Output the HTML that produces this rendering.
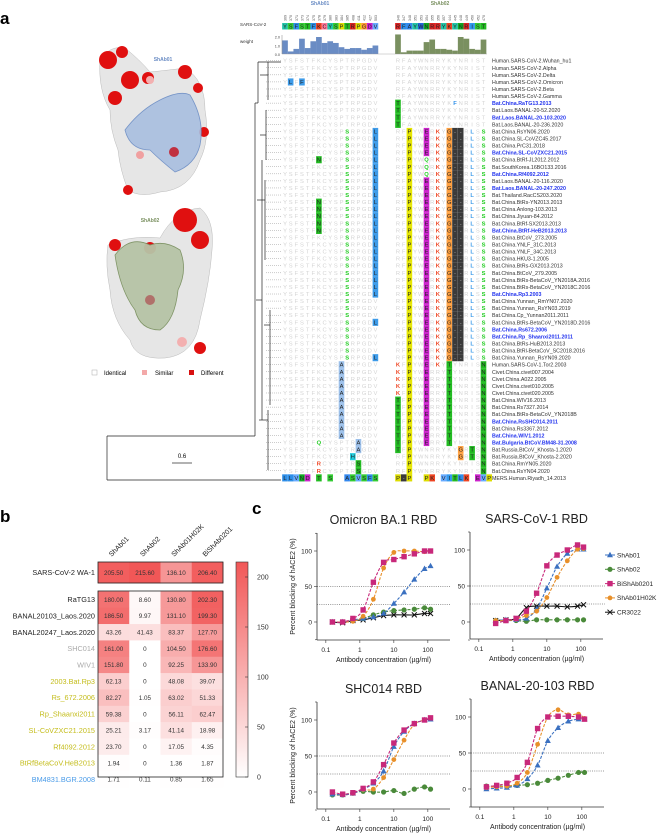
<!DOCTYPE html>
<html><head><meta charset="utf-8"><style>
html,body{margin:0;padding:0;background:#fff;}
svg{display:block;font-family:"Liberation Sans",sans-serif;}
</style></head><body>
<svg id="fig" width="669" height="836" viewBox="0 0 669 836" xmlns="http://www.w3.org/2000/svg">
<text x="0" y="24" font-size="17" font-weight="bold">a</text>
<text x="0" y="522" font-size="17" font-weight="bold">b</text>
<text x="252" y="514" font-size="17" font-weight="bold">c</text>

<!-- surfaces -->
<g>
<path d="M100,60 Q110,45 125,48 Q140,60 150,72 Q170,70 185,68 Q205,80 205,110 Q210,140 200,160 Q190,190 160,192 Q140,198 128,190 Q120,170 118,150 Q110,130 110,110 Q98,90 100,60Z" fill="#e6e6e6" stroke="#bbb" stroke-width="0.5"/>
<circle cx="108" cy="60" r="9" fill="#e01010"/><circle cx="122" cy="52" r="6" fill="#e01010"/><circle cx="130" cy="80" r="9" fill="#e01010"/><circle cx="148" cy="78" r="6" fill="#e01010"/><circle cx="115" cy="98" r="7" fill="#e01010"/><circle cx="185" cy="72" r="7" fill="#e01010"/><circle cx="198" cy="88" r="5" fill="#e01010"/><circle cx="204" cy="132" r="5" fill="#e01010"/><circle cx="128" cy="190" r="5" fill="#e01010"/><circle cx="140" cy="155" r="4" fill="#f0a0a0"/><circle cx="150" cy="80" r="4" fill="#f3b0b0"/>
<path d="M125,130 Q140,110 160,100 Q180,90 190,95 Q205,120 200,145 Q195,165 175,172 Q160,160 150,150 Q130,150 125,130Z" fill="#a9bfe0" stroke="#6a8cc4" stroke-width="0.8" opacity="0.9"/>
<circle cx="174" cy="152" r="5" fill="#c03040"/>
<text x="163" y="61" font-size="5" fill="#6a8cc4" font-weight="bold" text-anchor="middle">ShAb01</text>
</g>
<g>
<path d="M108,245 Q130,235 160,238 Q175,210 200,208 Q215,220 212,250 Q210,280 200,320 Q195,355 165,358 Q135,360 130,340 Q112,320 110,290 Q105,265 108,245Z" fill="#e6e6e6" stroke="#bbb" stroke-width="0.5"/>
<circle cx="185" cy="220" r="12" fill="#e01010"/><circle cx="200" cy="240" r="9" fill="#e01010"/><circle cx="115" cy="245" r="6" fill="#e01010"/><circle cx="150" cy="248" r="6" fill="#e01010"/><circle cx="200" cy="348" r="6" fill="#e01010"/><circle cx="182" cy="342" r="5" fill="#f3b0b0"/>
<path d="M115,255 Q130,235 150,245 Q165,240 180,250 Q188,270 178,290 Q175,320 160,330 Q140,330 135,310 Q120,290 115,255Z" fill="#b6c4a6" stroke="#7a9060" stroke-width="0.8" opacity="0.95"/>
<circle cx="150" cy="300" r="5" fill="#b0706a"/>
<text x="150" y="222" font-size="5" fill="#7a9060" font-weight="bold" text-anchor="middle">ShAb02</text>
</g>
<g font-size="6">
<rect x="92" y="370" width="5" height="5" fill="#fff" stroke="#aaa" stroke-width="0.5"/><text x="104" y="375">Identical</text>
<rect x="142" y="370" width="5" height="5" fill="#f3a9a9"/><text x="155" y="375">Similar</text>
<rect x="189" y="370" width="5" height="5" fill="#d81010"/><text x="201" y="375">Different</text>
</g>
<g><text x="182" y="458" font-size="6" text-anchor="middle">0.6</text><line x1="172" y1="463" x2="192" y2="463" stroke="#333" stroke-width="0.8"/></g>

<g id="align"></g>
<g id="heat"></g>
<g id="curves"></g>
</svg>
<script>
const NS="http://www.w3.org/2000/svg";
function mk(tag,attrs,parent,txt){const e=document.createElementNS(NS,tag);for(const k in attrs)e.setAttribute(k,attrs[k]);if(txt!==undefined)e.textContent=txt;parent.appendChild(e);return e;}

// ---------- Panel a alignment ----------
const seq1="YSFSTFKCYSPTRPGDV".split("");
const seq2="RFAYWNRRYKYNRIST".split("");
const weight1=[1.6,0.3,0.6,1.8,0.7,1.5,2.0,1.3,1.5,1.3,0.8,0.6,0.7,0.7,0.5,0.7,1.0];
const weight2=[2.3,0.2,0.4,0.4,0.4,1.4,1.7,0.6,0.6,0.5,0.4,2.0,1.8,0.6,0.5,1.7];
const names=["Human.SARS-CoV-2.Wuhan_hu1","Human.SARS-CoV-2.Alpha","Human.SARS-CoV-2.Delta","Human.SARS-CoV-2.Omicron","Human.SARS-CoV-2.Beta","Human.SARS-CoV-2.Gamma","Bat.China.RaTG13.2013","Bat.Laos.BANAL-20-52.2020","Bat.Laos.BANAL-20-103.2020","Bat.Laos.BANAL-20-236.2020","Bat.China.RsYN06.2020","Bat.China.SL-CoVZC45.2017","Bat.China.PrC31.2018","Bat.China.SL-CoVZXC21.2015","Bat.China.BtRf-JL2012.2012","Bat.SouthKorea.16BO133.2016","Bat.China.Rf4092.2012","Bat.Laos.BANAL-20-116.2020","Bat.Laos.BANAL-20-247.2020","Bat.Thailand.RacCS203.2020","Bat.China.BtRs-YN2013.2013","Bat.China.Anlong-103.2013","Bat.China.Jiyuan-84.2012","Bat.China.BtRf-SX2013.2013","Bat.China.BtRf-HeB2013.2013","Bat.China.BtCoV_273.2005","Bat.China.YNLF_31C.2013","Bat.China.YNLF_34C.2013","Bat.China.HKU3-1.2005","Bat.China.BtRs-GX2013.2013","Bat.China.BtCoV_279.2005","Bat.China.BtRs-BetaCoV_YN2018A.2016","Bat.China.BtRs-BetaCoV_YN2018C.2016","Bat.China.Rp3.2003","Bat.China.Yunnan_RmYN07.2020","Bat.China.Yunnan_RsYN03.2019","Bat.China.Cp_Yunnan2011.2011","Bat.China.BtRs-BetaCoV_YN2018D.2016","Bat.China.Rs672.2006","Bat.China.Rp_Shaanxi2011.2011","Bat.China.BtRs-HuB2013.2013","Bat.China.BtRl-BetaCoV_SC2018.2016","Bat.China.Yunnan_RsYN09.2020","Human.SARS-CoV-1.Tor2.2003","Civet.China.civet007.2004","Civet.China.A022.2005","Civet.China.civet010.2005","Civet.China.civet020.2005","Bat.China.WIV16.2013","Bat.China.Rs7327.2014","Bat.China.BtRs-BetaCoV_YN2018B","Bat.China.RsSHC014.2011","Bat.China.Rs3367.2012","Bat.China.WIV1.2012","Bat.Bulgaria.BtCoV.BM48-31.2008","Bat.Russia.BtCoV_Khosta-1.2020","Bat.Russia.BtCoV_Khosta-2.2020","Bat.China.RmYN05.2020","Bat.China.RsYN04.2020","MERS.Human.Riyadh_14.2013"];
const highlighted=[6,8,13,16,18,24,33,38,39,51,53,54];
const resColor={Y:"#22c4a8",S:"#33cc33",F:"#2d8ee8",T:"#22bb22",K:"#ee4422",C:"#ff7799",P:"#dddd00",R:"#dd2222",G:"#ff9933",D:"#cc22cc",V:"#66aaff",A:"#3388ee",W:"#2266dd",N:"#11aa22",I:"#3399ee",E:"#cc22cc",L:"#2d8ee8",Q:"#33cc33",H:"#22ccdd"};
// overrides: [rowFrom,rowTo,group,col,letter,kind,color]
const overrides=[
[3,3,1,1,"L","box","#3d9be9"],[3,3,1,3,"F","box","#3d9be9"],
[10,42,1,11,"S","txt","#22cc22"],[10,33,1,16,"L","box","#3d9be9"],[37,37,1,16,"L","box","#3d9be9"],[42,42,1,16,"L","box","#3d9be9"],
[14,14,1,6,"N","box","#22bb22"],[20,24,1,6,"N","box","#22bb22"],
[43,53,1,10,"A","box","#9cc0ea"],[54,55,1,13,"A","box","#9cc0ea"],[56,56,1,12,"H","box","#22ccdd"],[57,58,1,13,"S","box","#22bb22"],[57,58,1,6,"R","txt","#ee4422"],[54,54,1,6,"Q","txt","#22cc22"],
[6,9,2,0,"T","box","#22bb22"],[6,6,2,10,"F","txt","#2d8ee8"],
[10,58,2,2,"P","box","#e6e600"],[10,54,2,5,"E","box","#cc22cc"],[14,16,2,5,"Q","txt","#22cc22"],
[10,43,2,7,"K","txt","#ee4422"],[10,42,2,9,"G","box","#ffa040"],[43,54,2,9,"T","box","#22bb22"],
[10,42,2,10,"-","box","#3a3a3a"],[10,42,2,11,"-","box","#3a3a3a"],[10,42,2,13,"L","txt","#3d9be9"],[10,42,2,15,"S","txt","#22cc22"],
[43,58,2,15,"N","box","#22bb22"],[43,47,2,0,"K","txt","#ee4422"],[48,55,2,0,"T","box","#22bb22"],[55,56,2,11,"G","box","#ffa040"],[55,56,2,13,"T","box","#22bb22"]
];
const mers1=["L","L","V","N","D","","T","","S","","","A","S","V","S","F","S"];
const mers2=["P","-","P","","","P","K","","V","I","T","L","K","","E","V","P"];
(function(){
  const g=document.getElementById("align");
  const x1=c=>285+c*5.65, x2=c=>398+c*5.7, rowY=i=>60.7+i*7.07;
  mk("text",{x:240,y:26,"font-size":4.5,fill:"#333"},g,"SARS-CoV-2");
  mk("text",{x:240,y:43,"font-size":4.5,fill:"#333"},g,"weight");
  mk("text",{x:320,y:5,"font-size":5,fill:"#6a8cc4","font-weight":"bold","text-anchor":"middle"},g,"ShAb01");
  mk("text",{x:440,y:5,"font-size":5,fill:"#7a9060","font-weight":"bold","text-anchor":"middle"},g,"ShAb02");
  const nums1=[369,370,371,373,374,375,378,379,380,383,384,385,408,411,412,427,503];
  const nums2=[346,347,348,351,353,354,355,356,357,444,445,448,449,450,452,470];
  [[seq1,x1,nums1,weight1,"#6a8cc4"],[seq2,x2,nums2,weight2,"#7a9060"]].forEach(([s,xf,nums,w,col],gi)=>{
    s.forEach((ch,c)=>{
      const t=mk("text",{x:xf(c)+1.5,y:21,"font-size":3.6,fill:"#555",transform:`rotate(-90 ${xf(c)+1.5} 21)`},g,nums[c]);
      const r=mk("rect",{x:xf(c)-2.85,y:23,width:5.7,height:6.5,fill:resColor[ch]||"#ccc"},g);
      
      
      mk("text",{x:xf(c),y:28.3,"font-size":5.5,"text-anchor":"middle",fill:"#222"},g,ch);
      const h=w[c]*8.5;
      const b=mk("rect",{x:xf(c)-2.85,y:54-h,width:5.7,height:h,fill:col},g);
      
      
    });
  });
  mk("line",{x1:282,y1:35,x2:282,y2:54,stroke:"#666","stroke-width":0.4},g);
  mk("line",{x1:282,y1:54,x2:487,y2:54,stroke:"#999","stroke-width":0.4},g);
  [["2.0",37],["1.0",46],["0.0",54.5]].forEach(([l,y])=>mk("text",{x:280,y:y+1.5,"font-size":3.8,"text-anchor":"end",fill:"#444"},g,l));
  // rows
  names.forEach((n,i)=>{
    const y=rowY(i);
    const last=i===names.length-1;
    if(!last){
      seq1.forEach((ch,c)=>mk("text",{x:x1(c),y:y+2,"font-size":5.8,"text-anchor":"middle",fill:"#d4d4d4"},g,ch));
      seq2.forEach((ch,c)=>mk("text",{x:x2(c),y:y+2,"font-size":5.8,"text-anchor":"middle",fill:"#d4d4d4"},g,ch));
    }
    const hl=highlighted.includes(i);
    const t=mk("text",{x:492,y:y+2,"font-size":5.3,fill:hl?"#2233ee":"#333","font-weight":hl?"bold":"normal"},g,n);
    
    
    if(i<names.length-1) mk("line",{x1:266,y1:y,x2:281,y2:y,stroke:"#999","stroke-width":0.5,"stroke-dasharray":"1,1"},g);
  });
  function cell(grp,c,i,ch,kind,color){
    const x=grp===1?x1(c):x2(c), y=rowY(i);
    if(kind==="box"){mk("rect",{x:x-2.8,y:y-3.5,width:5.6,height:7.1,fill:color},g);
      mk("text",{x:x,y:y+2,"font-size":5.8,"text-anchor":"middle",fill:color==="#3a3a3a"?"#aaa":"#222"},g,ch);}
    else{mk("rect",{x:x-2.8,y:y-3.5,width:5.6,height:7.1,fill:"#fff"},g);
      mk("text",{x:x,y:y+2,"font-size":5.8,"text-anchor":"middle",fill:color,"font-weight":"bold"},g,ch);}
  }
  overrides.forEach(o=>{for(let i=o[0];i<=o[1];i++)cell(o[2],o[3],i,o[4],o[5],o[6]);});
  const li=names.length-1;
  mers1.forEach((ch,c)=>{if(ch)cell(1,c,li,ch,"box",resColor[ch]||"#ccc");});
  mers2.forEach((ch,c)=>{if(ch)cell(2,c,li,ch,"box",ch==="-"?"#3a3a3a":(resColor[ch]||"#ccc"));});
  // tree
  const L=(a,b,c,d,w)=>mk("line",{x1:a,y1:b,x2:c,y2:d,stroke:"#222","stroke-width":w||0.7},g);
  L(107,436,255,436);L(107,480,281,480);L(107,436,107,480);
  L(255,436,255,103);L(255,103,258,103);L(258,103,258,62);L(258,62,281,62);
  L(256,300,262,300);L(262,160,262,420);L(259,420,268,420);L(268,410,268,470);
  L(257,200,265,200);L(265,180,265,260);L(264,325,270,325);L(270,310,270,405);
  L(260,75,268,75);L(268,62,268,100);L(260,135,266,135);L(266,110,266,160);
})();

// ---------- Panel b heatmap ----------
const hmRows=["SARS-CoV-2 WA-1","RaTG13","BANAL20103_Laos.2020","BANAL20247_Laos.2020","SHC014","WIV1","2003.Bat.Rp3","Rs_672.2006","Rp_Shaanxi2011","SL-CoVZXC21.2015","Rf4092.2012","BtRfBetaCoV.HeB2013","BM4831.BGR.2008"];
const hmCols=["ShAb01","ShAb02","ShAb01H02K","BiShAb0201"];
const hmValues=[[205.50,215.60,136.10,206.40],[180.00,8.60,130.80,202.30],[186.50,9.97,131.10,199.30],[43.26,41.43,83.37,127.70],[161.00,0,104.50,176.60],[151.80,0,92.25,133.90],[62.13,0,48.08,39.07],[82.27,1.05,63.02,51.33],[59.38,0,56.11,62.47],[25.21,3.17,41.14,18.98],[23.70,0,17.05,4.35],[1.94,0,1.36,1.87],[1.71,0.11,0.85,1.65]];
const hmLabels=[["205.50","215.60","136.10","206.40"],["180.00","8.60","130.80","202.30"],["186.50","9.97","131.10","199.30"],["43.26","41.43","83.37","127.70"],["161.00","0","104.50","176.60"],["151.80","0","92.25","133.90"],["62.13","0","48.08","39.07"],["82.27","1.05","63.02","51.33"],["59.38","0","56.11","62.47"],["25.21","3.17","41.14","18.98"],["23.70","0","17.05","4.35"],["1.94","0","1.36","1.87"],["1.71","0.11","0.85","1.65"]];
const rowColors=["#222","#222","#222","#222","#aaa","#aaa","#c4bd1c","#c4bd1c","#c4bd1c","#c4bd1c","#c4bd1c","#c4bd1c","#4a9be8"];
const cbTicks=[0,50,100,150,200];
(function(){
  const g=document.getElementById("heat");
  const left=98,cw=31.25,vmax=215;
  const rowTop=i=>i===0?562:575+i*16.35;
  const rh=i=>i===0?21:16.35;
  const color=v=>{const t=Math.min(v/vmax,1);return `rgb(${Math.round(255-14*t)},${Math.round(255-168*t)},${Math.round(255-168*t)})`;};
  hmValues.forEach((row,i)=>{
    row.forEach((v,j)=>{
      const r=mk("rect",{x:left+j*cw,y:rowTop(i),width:cw+0.3,height:rh(i)+0.3,fill:color(v)},g);
      
      
      mk("text",{x:left+j*cw+cw/2,y:rowTop(i)+rh(i)/2+2.3,"font-size":6.3,"text-anchor":"middle",fill:"#333"},g,hmLabels[i][j]);
    });
    const t=mk("text",{x:95,y:rowTop(i)+rh(i)/2+2.6,"font-size":7.3,"text-anchor":"end",fill:rowColors[i]},g,hmRows[i]);
    
    
  });
  mk("rect",{x:left,y:562,width:4*cw,height:21,fill:"none",stroke:"#222","stroke-width":0.8},g);
  mk("rect",{x:left,y:591,width:4*cw,height:186,fill:"none",stroke:"#222","stroke-width":0.8},g);
  hmCols.forEach((c,j)=>{const x=left+j*cw+cw/2-2,y=557;
    const t=mk("text",{x:x,y:y,"font-size":7,transform:`rotate(-45 ${x} ${y})`,fill:"#222"},g,c);
    
    });
  const defs=mk("defs",{},g);const lg=mk("linearGradient",{id:"cb",x1:0,y1:1,x2:0,y2:0},defs);
  mk("stop",{offset:0,"stop-color":"#fff"},lg);mk("stop",{offset:1,"stop-color":color(vmax)},lg);
  const cb=mk("rect",{x:236,y:562,width:12,height:215,fill:"url(#cb)",stroke:"#333","stroke-width":0.6},g);
  
  
  cbTicks.forEach(v=>{const y=777-v;mk("line",{x1:245,y1:y,x2:248,y2:y,stroke:"#333","stroke-width":0.6},g);
    mk("text",{x:257,y:y+2.5,"font-size":7,fill:"#333"},g,v);});
})();

// ---------- Panel c curves ----------
const concTop1=[0.156,0.3125,0.625,1.25,2.5,5,10,20,40,80,120];
const concTop2=[0.3125,0.625,1.25,2.5,5,10,20,40,80,120];
const omiBlue=[0,0,3,5,7,12,26,42,60,75,79];
const omiGreen=[0,0,2,5,10,14,16,17,18,20,18];
const omiPink=[0,0,5,17,56,84,88,92,96,100,100];
const omiOrange=[0,0,1,8,32,76,98,100,100,99,100];
const omiBlack=[0,-1,2,3,6,9,10,10,10,12,12];
const sc1Blue=[2,3,3,5,18,47,77,95,101,101];
const sc1Green=[2,2,2,1,3,3,3,3,3,3];
const sc1Pink=[-2,2,5,15,40,78,93,100,107,104];
const sc1Orange=[2,2,4,9,15,34,62,85,101,102];
const sc1Black=[2,3,5,20,22,22,22,21,22,24];
const shcBlue=[-3,-4,-2,4,12,29,63,84,95,100,101];
const shcGreen=[-4,-4,-1,1,0,0,2,-2,4,7,4];
const shcPink=[0,-3,-1,5,14,38,68,86,95,100,103];
const shcOrange=[-3,-4,-2,3,4,20,45,72,94,100,102];
const banBlue=[0,1,2,5,14,33,67,85,94,97,97];
const banGreen=[4,4,4,5,6,8,12,15,19,23,23];
const banPink=[3,5,8,16,37,84,100,101,101,100,97];
const banOrange=[2,3,4,8,23,62,100,110,103,104,98];
const xTicks=[0.1,1,10,100];
const xTickLabels=["0.1","1","10","100"];
const yTicks=[0,50,100];
const legendNames=["ShAb01","ShAb02","BiShAb0201","ShAb01H02K","CR3022"];
(function(){
  const g=document.getElementById("curves");
  const C={blue:"#3a70c0",green:"#4a8a3a",pink:"#c8287a",orange:"#e8902a",black:"#111"};
  function marker(p,x,y,type,col){
    if(type==="tri") mk("path",{d:`M${x},${y-3.2}L${x+3},${y+2.2}L${x-3},${y+2.2}Z`,fill:col},p);
    else if(type==="circ") mk("circle",{cx:x,cy:y,r:2.6,fill:col},p);
    else if(type==="sq") mk("rect",{x:x-2.7,y:y-2.7,width:5.4,height:5.4,fill:col},p);
    else if(type==="hex") mk("circle",{cx:x,cy:y,r:2.4,fill:col},p);
    else {mk("path",{d:`M${x-2.5},${y-2.5}L${x+2.5},${y+2.5}M${x-2.5},${y+2.5}L${x+2.5},${y-2.5}`,stroke:col,"stroke-width":1},p);}
  }
  function smooth(pts){let d=`M${pts[0][0]},${pts[0][1]}`;
    for(let i=0;i<pts.length-1;i++){const p0=pts[Math.max(0,i-1)],p1=pts[i],p2=pts[i+1],p3=pts[Math.min(pts.length-1,i+2)];
      d+=`C${p1[0]+(p2[0]-p0[0])/6},${p1[1]+(p2[1]-p0[1])/6} ${p2[0]-(p3[0]-p1[0])/6},${p2[1]-(p3[1]-p1[1])/6} ${p2[0]},${p2[1]}`;}
    return d;}
  function plot(name,title,ax,series,ylab){
    const p=mk("g",{},g);
    
    
    const X=c=>ax.left+(Math.log10(c)+1.26)*34;
    const Y=v=>ax.y0-v*(ax.y0-ax.y100)/100;
    const right=ax.left+133;
    mk("text",{x:(ax.left+right)/2,y:ax.top-9,"font-size":12.5,"text-anchor":"middle",fill:"#222"},p,title);
    [50,25].forEach(v=>mk("line",{x1:ax.left,y1:Y(v),x2:right+ax.ext,y2:Y(v),stroke:"#333","stroke-width":0.6,"stroke-dasharray":"1,1.2"},p));
    mk("line",{x1:ax.left,y1:ax.top,x2:ax.left,y2:ax.bottom,stroke:"#333","stroke-width":0.8},p);
    mk("line",{x1:ax.left,y1:ax.bottom,x2:right,y2:ax.bottom,stroke:"#333","stroke-width":0.8},p);
    yTicks.forEach(v=>{mk("line",{x1:ax.left-3,y1:Y(v),x2:ax.left,y2:Y(v),stroke:"#333","stroke-width":0.6},p);
      mk("text",{x:ax.left-5,y:Y(v)+2.3,"font-size":6.5,"text-anchor":"end",fill:"#222"},p,v);});
    [-25,125].forEach(v=>mk("line",{x1:ax.left-2,y1:Y(v),x2:ax.left,y2:Y(v),stroke:"#333","stroke-width":0.6},p));
    xTicks.forEach((c,i)=>{mk("line",{x1:X(c),y1:ax.bottom,x2:X(c),y2:ax.bottom+3,stroke:"#333","stroke-width":0.6},p);
      mk("text",{x:X(c),y:ax.bottom+12,"font-size":6.5,"text-anchor":"middle",fill:"#222"},p,xTickLabels[i]);});
    mk("text",{x:(ax.left+right)/2,y:ax.bottom+22,"font-size":7,"text-anchor":"middle",fill:"#222"},p,"Antibody concentration (\u00b5g/ml)");
    if(ylab){const yx=ax.left-22,yy=(ax.top+ax.bottom)/2;mk("text",{x:yx,y:yy,"font-size":7,"text-anchor":"middle",transform:`rotate(-90 ${yx} ${yy})`,fill:"#222"},p,"Percent blocking of hACE2 (%)");}
    series.forEach(s=>{
      const pts=s.vals.map((v,i)=>[X(s.x[i]),Y(v)]);
      const path=mk("path",{d:smooth(pts),fill:"none",stroke:C[s.c],"stroke-width":1.1,"stroke-dasharray":s.c==="black"?"none":"3,1.5"},p);
      
      
      pts.forEach(q=>marker(p,q[0],q[1],s.m,C[s.c]));
    });
  }
  const S=(x,vals,c,m,n)=>({x,vals,c,m,n});
  plot("omicron-plot","Omicron BA.1 RBD",{left:317,top:533,bottom:640,y0:622,y100:551,ext:0},
    [S(concTop1,omiBlack,"black","x","cr3022"),S(concTop1,omiGreen,"green","circ","shab02"),S(concTop1,omiBlue,"blue","tri","shab01"),S(concTop1,omiOrange,"orange","hex","shab01h02k"),S(concTop1,omiPink,"pink","sq","bishab0201")],true);
  plot("sars-cov-1-plot","SARS-CoV-1 RBD",{left:470,top:532,bottom:639,y0:622,y100:550,ext:2},
    [S(concTop2,sc1Black,"black","x","cr3022"),S(concTop2,sc1Green,"green","circ","shab02"),S(concTop2,sc1Blue,"blue","tri","shab01"),S(concTop2,sc1Orange,"orange","hex","shab01h02k"),S(concTop2,sc1Pink,"pink","sq","bishab0201")],false);
  plot("shc014-plot","SHC014 RBD",{left:317,top:702,bottom:809,y0:792,y100:720,ext:0},
    [S(concTop1,shcGreen,"green","circ","shab02"),S(concTop1,shcOrange,"orange","hex","shab01h02k"),S(concTop1,shcBlue,"blue","tri","shab01"),S(concTop1,shcPink,"pink","sq","bishab0201")],true);
  plot("banal-20-103-plot","BANAL-20-103 RBD",{left:471,top:699,bottom:807,y0:789,y100:717,ext:0},
    [S(concTop1,banGreen,"green","circ","shab02"),S(concTop1,banBlue,"blue","tri","shab01"),S(concTop1,banOrange,"orange","hex","shab01h02k"),S(concTop1,banPink,"pink","sq","bishab0201")],false);
  // legend
  const lg=mk("g",{},g);
  
  
  const lc=["blue","green","pink","orange","black"],lm=["tri","circ","sq","hex","x"];
  legendNames.forEach((n,i)=>{const y=555+i*14.3;
    mk("line",{x1:605,y1:y,x2:615,y2:y,stroke:C[lc[i]],"stroke-width":1},lg);
    marker(lg,610,y,lm[i],C[lc[i]]);
    const t=mk("text",{x:617,y:y+2.3,"font-size":6.5,fill:"#222"},lg,n);
    
    
  });
})();
</script>
</body></html>
